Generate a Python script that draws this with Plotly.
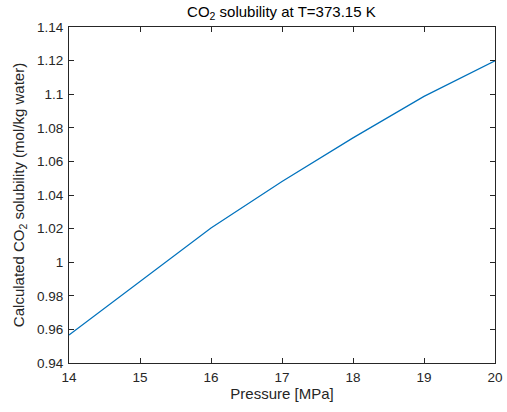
import plotly.graph_objects as go

pressure = [14, 15, 16, 17, 18, 19, 20]
solubility = [0.9567, 0.9888, 1.0204, 1.0481, 1.0740, 1.0987, 1.1199]
x_ticks = [14, 15, 16, 17, 18, 19, 20]
y_ticks = [0.94, 0.96, 0.98, 1.00, 1.02, 1.04, 1.06, 1.08, 1.10, 1.12, 1.14]
y_tick_labels = ["0.94", "0.96", "0.98", "1", "1.02", "1.04", "1.06", "1.08", "1.1", "1.12", "1.14"]

FONT = "Liberation Sans, Arial, Helvetica"

fig = go.Figure()
fig.add_trace(go.Scatter(x=pressure, y=solubility, mode="lines",
                         line=dict(color="#0072BD", width=1.2), showlegend=False,
                         hoverinfo="skip"))

axis_common = dict(showline=True, linecolor="#262626", linewidth=1, mirror="ticks",
                   ticks="inside", ticklen=5, tickcolor="#262626", tickwidth=1,
                   showgrid=False, zeroline=False, ticklabeloverflow="allow",
                   tickfont=dict(family=FONT, size=13.5, color="#262626"))

fig.update_layout(
    width=507, height=412, autosize=False,
    margin=dict(l=69, r=12, t=27, b=49),
    paper_bgcolor="white", plot_bgcolor="white",
    title=dict(text="CO<sub>2</sub> solubility at T=373.15 K", x=0.555, xanchor="center",
               y=0.985, yanchor="top",
               font=dict(family=FONT, size=15, color="#000000")),
    xaxis=dict(range=[14, 20], tickvals=x_ticks, ticktext=[str(v) for v in x_ticks],
               ticklabelstandoff=2, automargin=False,
               title=dict(text="Pressure [MPa]", standoff=4,
                          font=dict(family=FONT, size=15, color="#262626")),
               **axis_common),
    yaxis=dict(range=[0.94, 1.14], tickvals=y_ticks, ticktext=y_tick_labels,
               ticklabelstandoff=2, automargin=False,
               title=dict(text="Calculated CO<sub>2</sub> solubility (mol/kg water)", standoff=8,
                          font=dict(family=FONT, size=15, color="#262626")),
               **axis_common),
)

fig.write_html("out.html", config={"displayModeBar": False, "responsive": False})

with open("out.html", "r", encoding="utf-8") as f:
    html = f.read()
html = html.replace("<head>", "<head><style>html,body{margin:0;padding:0;overflow:hidden;}</style>", 1)
with open("out.html", "w", encoding="utf-8") as f:
    f.write(html)
